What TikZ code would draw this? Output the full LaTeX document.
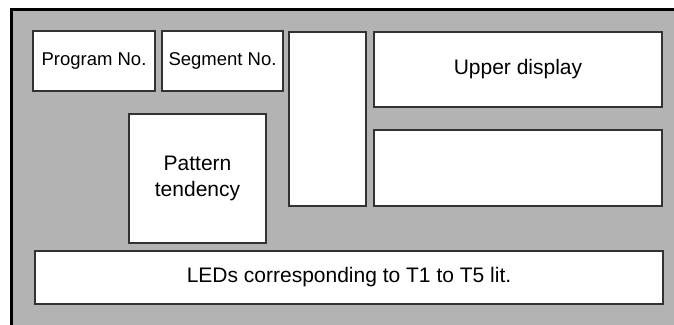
\documentclass[tikz,border=0pt]{standalone}
\usepackage{fontspec}
\setmainfont{Liberation Sans}
\usetikzlibrary{positioning}
\definecolor{panelgray}{HTML}{B3B3B3}
\definecolor{boxedge}{HTML}{333333}

\begin{document}
\begin{tikzpicture}[x=1pt,y=-1pt,
  panel/.style={draw=boxedge,line width=1.2pt,fill=white,inner sep=0pt,
    align=center,font=\fontsize{21}{26}\selectfont},
  smallpanel/.style={panel,font=\fontsize{18.5}{22}\selectfont}]
  \useasboundingbox (0,0) rectangle (674,324);
  \clip (0,0) rectangle (674,324);
  \fill[white] (0,0) rectangle (674,324);
  \draw[fill=panelgray,line width=2.2pt] (11.5,9.5) rectangle (690,340);

  \node[smallpanel,minimum width=122pt,minimum height=60pt] (prog) at (94,61) {Program No.};
  \node[smallpanel,minimum width=121pt,minimum height=60pt] (seg) at (222.5,61) {Segment No.};
  \node[panel,minimum width=77pt,minimum height=174pt] (mid) at (327.5,119) {};
  \node[panel,minimum width=288pt,minimum height=75pt] (upper) at (518,69.5) {Upper display};
  \node[panel,minimum width=288pt,minimum height=76pt] (lower) at (518,168) {};
  \node[panel,minimum width=137pt,minimum height=129pt] (pattern) at (197.5,178.5) {Pattern\\tendency};
  \node[panel,minimum width=628pt,minimum height=53pt] (leds) at (349,277.5) {LEDs corresponding to T1 to T5 lit.};
\end{tikzpicture}
\end{document}
